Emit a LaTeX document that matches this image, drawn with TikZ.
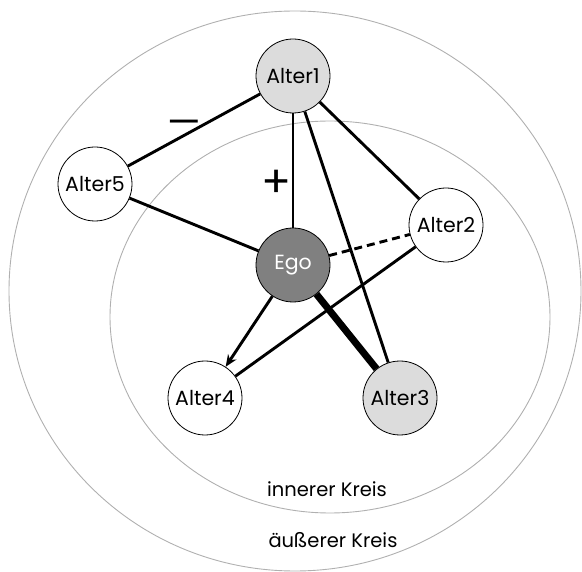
\documentclass[tikz,border=0pt]{standalone}
\usepackage{fontspec}
\setmainfont{Poppins}
\usetikzlibrary{arrows.meta}

\begin{document}
\begin{tikzpicture}[x=1pt, y=-1pt, >={Stealth[length=12pt, width=10pt]},
  person/.style={circle, draw=black, line width=0.8pt, minimum size=74pt,
    inner sep=0pt, font=\fontsize{20.5}{24}\selectfont},
  tie/.style={line width=2.9pt},
  ring/.style={draw=ringcolor, line width=0.9pt},
  caption/.style={font=\fontsize{19.5}{23}\selectfont},
  sign/.style={font=\fontsize{44}{48}\selectfont}]

  % Colors
  \definecolor{egocolor}{HTML}{808080} % Ego
  \definecolor{altcolor}{HTML}{DCDCDC} % hervorgehobene Alteri
  \definecolor{ringcolor}{HTML}{B0B0B0} % Kreise

  \useasboundingbox (0,0) rectangle (582,572);

  % Kreise
  \draw[ring] (295,291) ellipse [x radius=286, y radius=280];
  \draw[ring] (330,317) ellipse [x radius=220, y radius=196];
  \node[caption] (inner) at (327,489) {innerer Kreis};
  \node[caption] (outer) at (333,540) {äußerer Kreis};

  % Personen
  \node[person, fill=altcolor] (alter1) at (293,76) {Alter1};
  \node[person, fill=white] (alter5) at (95,184) {Alter5};
  \node[person, fill=white] (alter2) at (446,225) {Alter2};
  \node[person, fill=egocolor, text=white] (ego) at (293,265) {Ego};
  \node[person, fill=white] (alter4) at (205,398) {Alter4};
  \node[person, fill=altcolor] (alter3) at (400,398) {Alter3};

  % Beziehungen
  \draw[tie] (alter1) -- (alter5);
  \draw[tie] (alter1) -- (ego);
  \draw[tie] (alter1) -- (alter3);
  \draw[tie] (alter1) -- (alter2);
  \draw[tie] (alter5) -- (ego);
  \draw[tie, dash pattern=on 8pt off 5pt] (ego) -- (alter2);
  \draw[tie, ->] (ego) -- (alter4);
  \draw[tie] (alter2) -- (alter4);
  \draw[line width=7pt] (ego) -- (alter3);

  % Vorzeichen
  \node[sign, font=\fontsize{38}{42}\selectfont] (minus) at (184,128) {—};
  \node[sign] (plus) at (277,184) {+};

\end{tikzpicture}
\end{document}
